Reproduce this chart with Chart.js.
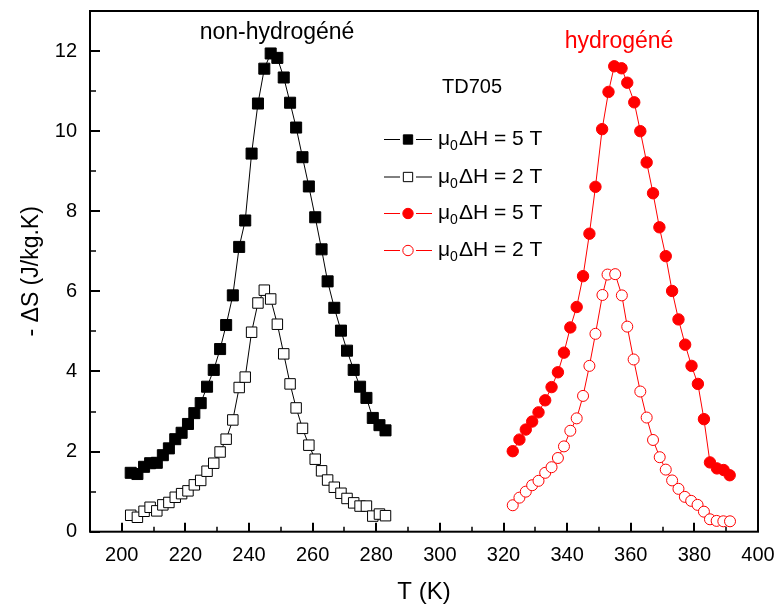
<!DOCTYPE html>
<html><head><meta charset="utf-8">
<script src="https://cdn.jsdelivr.net/npm/chart.js@4/dist/chart.umd.min.js"></script>
<style>html,body{margin:0;padding:0;background:#fff}canvas{display:block}</style>
</head><body>
<canvas id="c" width="781" height="609"></canvas>
<script>
// ---------- data ----------
const tNonHyd = [202.8,204.9,207.0,208.9,211.0,212.9,214.8,216.8,218.8,220.8,222.8,224.8,226.8,228.9,230.9,232.8,234.9,236.9,238.8,240.8,242.8,244.8,246.8,248.9,250.9,252.9,254.8,256.8,258.8,260.8,262.8,264.7,266.8,268.9,270.8,272.9,274.9,276.9,278.9,281.0,282.9];
const dsNonHyd5T = [1.47,1.44,1.62,1.71,1.72,1.91,2.08,2.31,2.47,2.69,2.96,3.21,3.62,4.04,4.56,5.16,5.90,7.11,7.77,9.44,10.69,11.56,11.94,11.83,11.34,10.71,10.09,9.35,8.62,7.85,7.05,6.25,5.59,5.02,4.52,4.04,3.62,3.34,2.84,2.66,2.53];
const dsNonHyd2T = [0.41,0.36,0.51,0.61,0.52,0.67,0.73,0.86,0.95,1.02,1.17,1.28,1.51,1.71,1.99,2.31,2.79,3.60,3.86,4.98,5.71,6.03,5.81,5.18,4.44,3.69,3.09,2.58,2.16,1.81,1.52,1.29,1.11,0.96,0.83,0.72,0.64,0.64,0.39,0.44,0.40];

const tHyd5T = [322.9,325.0,327.0,329.0,331.0,333.1,335.1,337.1,339.0,341.0,343.0,345.0,347.0,348.9,351.0,353.0,354.8,357.1,358.9,361.1,363.0,365.0,367.0,369.0,371.0,373.0,375.0,377.1,379.1,381.1,383.0,384.9,387.1,389.2,391.1];
const dsHyd5T = [2.01,2.30,2.55,2.75,2.98,3.28,3.61,3.98,4.47,5.10,5.61,6.38,7.44,8.61,10.05,10.98,11.62,11.57,11.21,10.72,10.00,9.22,8.45,7.60,6.88,6.01,5.30,4.67,4.14,3.69,2.81,1.73,1.58,1.54,1.41];
const tHyd2T = [322.9,325.0,327.0,329.0,331.0,333.1,335.1,337.1,339.0,341.0,343.0,345.0,347.0,348.9,351.1,352.7,355.1,357.2,358.9,360.9,363.0,365.0,367.0,369.1,371.0,373.0,375.0,377.0,379.0,381.0,383.0,384.9,387.0,389.1,391.2];
const dsHyd2T = [0.66,0.85,1.00,1.16,1.27,1.47,1.61,1.84,2.13,2.52,2.83,3.39,4.14,4.94,5.91,6.42,6.43,5.90,5.12,4.30,3.50,2.85,2.29,1.86,1.55,1.28,1.07,0.87,0.77,0.67,0.50,0.31,0.27,0.26,0.26];

const xTickVals = [200,220,240,260,280,300,320,340,360,380,400];
const xMinorVals = [210,230,250,270,290,310,330,350,370,390];
const yTickVals = [0,2,4,6,8,10,12];
const yMinorVals = [1,3,5,7,9,11];

const legendLabels = ['5 T','2 T','5 T','2 T'];

// ---------- helpers ----------
const FONT = "'Liberation Sans', Arial, sans-serif";
const pts = (xs, ys) => xs.map((x,i)=>({x:x, y:ys[i]}));

const datasets = [
  {label:'non-hydrogéné 5 T', data:pts(tNonHyd, dsNonHyd5T), borderColor:'#000', backgroundColor:'#000',
   pointStyle:'rect', pointRadius:7.8, pointBackgroundColor:'#000', pointBorderColor:'#000', pointBorderWidth:1, borderWidth:1},
  {label:'non-hydrogéné 2 T', data:pts(tNonHyd, dsNonHyd2T), borderColor:'#000', backgroundColor:'#fff',
   pointStyle:'rect', pointRadius:7.4, pointBackgroundColor:'#fff', pointBorderColor:'#000', pointBorderWidth:1, borderWidth:1},
  {label:'hydrogéné 5 T', data:pts(tHyd5T, dsHyd5T), borderColor:'#ff0000', backgroundColor:'#ff0000',
   pointStyle:'circle', pointRadius:5.7, pointBackgroundColor:'#ff0000', pointBorderColor:'#ff0000', pointBorderWidth:1, borderWidth:1},
  {label:'hydrogéné 2 T', data:pts(tHyd2T, dsHyd2T), borderColor:'#ff0000', backgroundColor:'#fff',
   pointStyle:'circle', pointRadius:5.5, pointBackgroundColor:'#fff', pointBorderColor:'#ff0000', pointBorderWidth:1, borderWidth:1},
];

const decor = {
  id:'decor',
  afterDraw(chart){
    const ctx = chart.ctx, ca = chart.chartArea;
    const xs = chart.scales.x, ys = chart.scales.y;
    ctx.save();
    // frame
    ctx.strokeStyle = '#000'; ctx.lineWidth = 2;
    ctx.strokeRect(ca.left, ca.top, ca.right-ca.left, ca.bottom-ca.top);
    // inward ticks
    ctx.lineWidth = 2;
    ctx.beginPath();
    xTickVals.forEach(v=>{const p=Math.round(xs.getPixelForValue(v)); ctx.moveTo(p, ca.bottom); ctx.lineTo(p, ca.bottom-9);});
    yTickVals.forEach(v=>{const p=Math.round(ys.getPixelForValue(v)); ctx.moveTo(ca.left, p); ctx.lineTo(ca.left+10, p);});
    ctx.stroke();
    ctx.lineWidth = 1.5;
    ctx.beginPath();
    xMinorVals.forEach(v=>{const p=Math.round(xs.getPixelForValue(v)); ctx.moveTo(p, ca.bottom); ctx.lineTo(p, ca.bottom-5);});
    yMinorVals.forEach(v=>{const p=Math.round(ys.getPixelForValue(v)); ctx.moveTo(ca.left, p); ctx.lineTo(ca.left+6, p);});
    ctx.stroke();

    // text annotations
    ctx.textAlign = 'center'; ctx.textBaseline = 'middle';
    ctx.font = '23px ' + FONT;
    ctx.fillStyle = '#000';
    ctx.fillText('non-hydrogéné', 277, 33);
    ctx.fillStyle = '#ff0000';
    ctx.fillText('hydrogéné', 619, 42);
    ctx.font = '20px ' + FONT;
    ctx.fillStyle = '#000';
    ctx.fillText('TD705', 472, 87);

    // legend
    const rows = [139.5, 177, 213.5, 250.5];
    chart.data.datasets.forEach((ds, i)=>{
      const y = rows[i];
      ctx.strokeStyle = ds.borderColor; ctx.lineWidth = 1;
      ctx.beginPath();
      ctx.moveTo(384, y); ctx.lineTo(400, y);
      ctx.moveTo(416, y); ctx.lineTo(432, y);
      ctx.stroke();
      ctx.fillStyle = ds.pointBackgroundColor; ctx.strokeStyle = ds.pointBorderColor; ctx.lineWidth = 1;
      Chart.helpers.drawPoint(ctx, {pointStyle: ds.pointStyle, radius: ds.pointStyle==='rect'?6.6:5.2, rotation:0, borderWidth:1}, 408, y);
      ctx.fillStyle = '#000';
      ctx.textAlign = 'left'; ctx.textBaseline = 'middle';
      ctx.font = '21px ' + FONT;
      let x = 438;
      ctx.fillText('μ', x, y); x += ctx.measureText('μ').width;
      ctx.font = '14px ' + FONT;
      ctx.fillText('0', x, y + 7); x += ctx.measureText('0').width + 1;
      ctx.font = '21px ' + FONT;
      ctx.fillText('ΔH = ' + legendLabels[i], x, y);
    });
    ctx.restore();
  }
};

new Chart(document.getElementById('c'), {
  type:'line',
  data:{datasets},
  options:{
    responsive:false, animation:false,
    layout:{padding:{top:11, right:23, left:0, bottom:0}},
    plugins:{legend:{display:false}, tooltip:{enabled:false}},
    elements:{line:{tension:0}},
    scales:{
      x:{type:'linear', min:190, max:400,
        afterBuildTicks:s=>{s.ticks = xTickVals.map(v=>({value:v}));},
        afterFit:s=>{s.height = 77.3; s.paddingLeft = 0; s.paddingRight = 0;},
        grid:{display:false}, border:{display:false},
        ticks:{color:'#000', font:{family:FONT, size:20}, padding:4, maxRotation:0, autoSkip:false},
        title:{display:true, text:'T (K)', color:'#000', font:{family:FONT, size:24}, padding:{top:0, bottom:2}}
      },
      y:{type:'linear', min:0, max:13,
        afterBuildTicks:s=>{s.ticks = yTickVals.map(v=>({value:v}));},
        afterFit:s=>{s.width = 90; s.paddingTop = 0; s.paddingBottom = 0;},
        grid:{display:false}, border:{display:false},
        ticks:{color:'#000', font:{family:FONT, size:20}, padding:5, autoSkip:false},
        title:{display:true, text:'- ΔS (J/kg.K)', color:'#000', font:{family:FONT, size:23}, padding:{top:18, bottom:0}}
      }
    }
  },
  plugins:[decor]
});
</script>
</body></html>
